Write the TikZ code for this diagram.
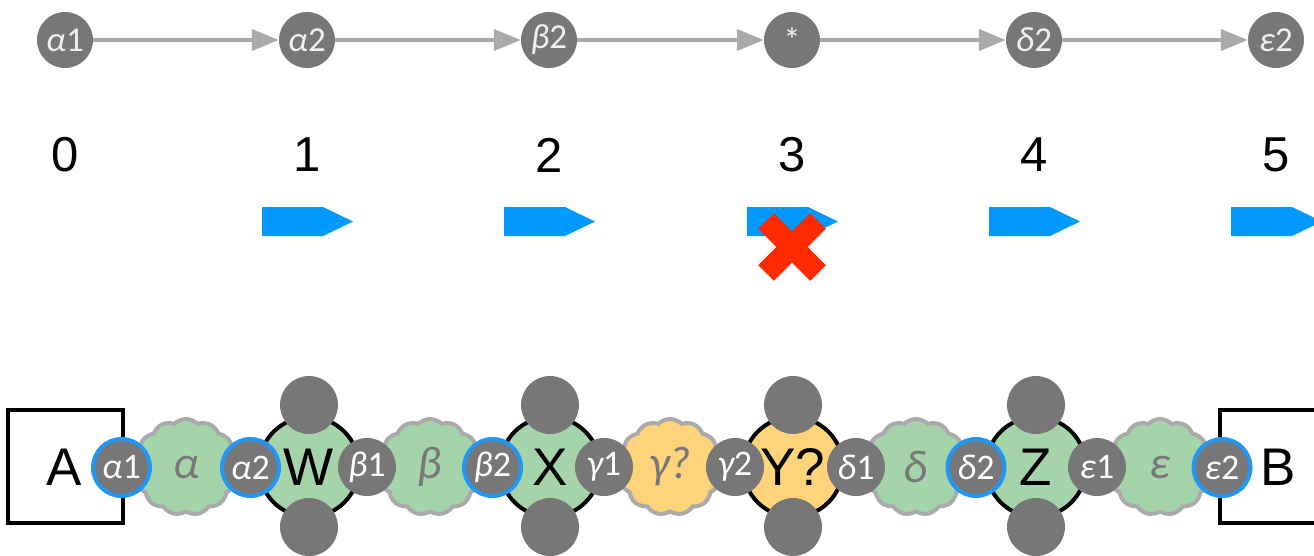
\documentclass[tikz,border=0pt]{standalone}
\usepackage{fontspec}
\setmainfont{Liberation Sans}
\newfontfamily\calfont{Carlito}
\usetikzlibrary{shapes.symbols,arrows.meta}
\definecolor{portgray}{HTML}{777777}
\definecolor{linegray}{HTML}{AAAAAA}
\definecolor{cloudgreen}{HTML}{A6D4AA}
\definecolor{cloudyellow}{HTML}{FFD47A}
\definecolor{ringblue}{HTML}{2196F3}
\definecolor{arrowblue}{HTML}{0099FF}
\definecolor{xred}{HTML}{FF2A00}
\newcommand\gl[2]{{\itshape #1}#2}
\tikzset{
  topnode/.style={circle, fill=portgray, minimum size=56pt, inner sep=0pt, text=white!88!gray, font=\calfont\fontsize{35}{35}\selectfont},
  flow/.style={draw=linegray, line width=4pt, -{Triangle[length=27pt,width=21pt]}},
  num/.style={font=\fontsize{49}{49}\selectfont},
  port/.style={circle, fill=portgray, minimum size=58pt, inner sep=0pt, text=white, font=\calfont\fontsize{36}{36}\selectfont},
  oport/.style={port, draw=ringblue, line width=4pt, minimum size=57pt},
  bignode/.style={circle, draw=black, line width=4pt, minimum size=100pt, inner sep=0pt, fill=cloudgreen, font=\fontsize{53}{53}\selectfont},
  stub/.style={circle, fill=portgray, minimum size=58pt, inner sep=0pt},
  cloudnode/.style={cloud, cloud puffs=13, cloud puff arc=90, aspect=1.1, draw=linegray, line width=4pt, minimum width=104pt, minimum height=96pt, inner sep=0pt, fill=cloudgreen, text=portgray, font=\calfont\itshape\fontsize{46}{46}\selectfont},
  boxnode/.style={draw=black, line width=3.5pt, minimum width=115pt, minimum height=113pt, inner sep=0pt},
  lettertext/.style={font=\fontsize{53}{53}\selectfont},
  bluearrow/.style={fill=arrowblue},
  cross/.style={draw=xred, line width=22pt},
}
\begin{document}
\begin{tikzpicture}[x=1pt,y=-1pt]
\useasboundingbox (0,0) rectangle (1314,555);
% top row
\node[topnode] (t0) at (65,40) {\gl{α}{1}};
\node[topnode] (t1) at (307,40) {\gl{α}{2}};
\node[topnode] (t2) at (549,40) {\gl{β}{2}};
\node[topnode] (t3) at (792,40) {*};
\node[topnode] (t4) at (1034,40) {\gl{δ}{2}};
\node[topnode] (t5) at (1276,40) {\gl{ε}{2}};
\draw[flow] (t0) -- (t1);
\draw[flow] (t1) -- (t2);
\draw[flow] (t2) -- (t3);
\draw[flow] (t3) -- (t4);
\draw[flow] (t4) -- (t5);
% numbers
\node[num] (n0) at (65,155) {0};
\node[num] (n1) at (307,155) {1};
\node[num] (n2) at (549,155) {2};
\node[num] (n3) at (792,155) {3};
\node[num] (n4) at (1034,155) {4};
\node[num] (n5) at (1276,155) {5};
% blue arrows
\foreach \c in {307,549,792,1034,1276}{
  \fill[bluearrow] (\c-45,207) -- (\c+16,207) -- (\c+46,221.5) -- (\c+16,236) -- (\c-45,236) -- cycle;
}
% red cross
\coordinate (xc) at (792,247);
\draw[cross] ([shift={(-26,-26)}]xc) -- ([shift={(26,26)}]xc);
\draw[cross] ([shift={(-26,26)}]xc) -- ([shift={(26,-26)}]xc);
% bottom row: boxes
\node[boxnode] (A) at (65.5,466.5) {};
\node[lettertext] (Al) at (64,467) {A};
\node[boxnode] (B) at (1277.5,466.5) {};
\node[lettertext] (Bl) at (1278,467) {B};
% clouds
\node[cloudnode] (ca) at (186,467) {α};
\node[cloudnode] (cb) at (430,467) {β};
\node[cloudnode, fill=cloudyellow] (cg) at (670,467) {γ?};
\node[cloudnode] (cd) at (916,467) {δ};
\node[cloudnode] (ce) at (1160,467) {ε};
% big nodes
\node[bignode] (W) at (309,467) {W};
\node[bignode] (X) at (550,467) {X};
\node[bignode, fill=cloudyellow] (Y) at (793,467) {Y?};
\node[bignode] (Z) at (1036,467) {Z};
% stubs
\foreach \n/\c in {w/309,x/550,y/793,z/1036}{
  \node[stub] (\n top) at (\c,405) {};
  \node[stub] (\n bot) at (\c,527) {};
}
% ports
\node[oport] (pa1) at (121.5,467.5) {\gl{α}{1}};
\node[oport] (pa2) at (250.5,467.5) {\gl{α}{2}};
\node[port] (pb1) at (367,467) {\gl{β}{1}};
\node[oport] (pb2) at (492.5,467.5) {\gl{β}{2}};
\node[port] (pg1) at (604,467) {\gl{γ}{1}};
\node[port] (pg2) at (735,467) {\gl{γ}{2}};
\node[port] (pd1) at (856,467) {\gl{δ}{1}};
\node[oport] (pd2) at (976,467.5) {\gl{δ}{2}};
\node[port] (pe1) at (1097,467) {\gl{ε}{1}};
\node[oport] (pe2) at (1222,467.5) {\gl{ε}{2}};
\end{tikzpicture}
\end{document}
